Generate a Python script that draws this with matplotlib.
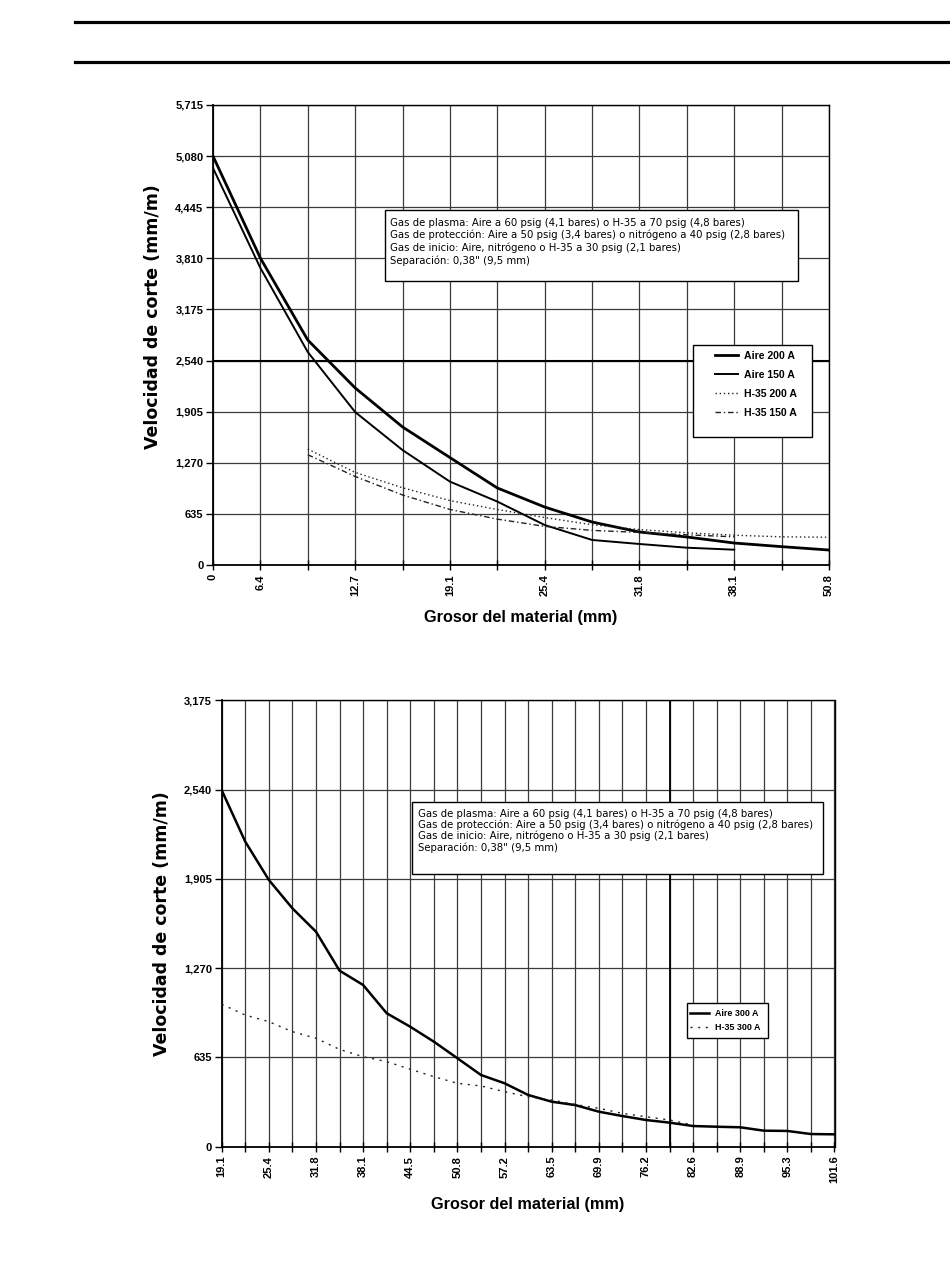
import numpy as np
import matplotlib
matplotlib.use('Agg')
import matplotlib.pyplot as plt
from matplotlib.lines import Line2D
from matplotlib.patches import Rectangle

plt.rcParams['font.family'] = ['Liberation Sans', 'DejaVu Sans']

# --- top chart data (category axis, thickness in mm) ---
thk_top = [0, 6.4, 9.5, 12.7, 15.9, 19.1, 22.2, 25.4, 28.6, 31.8, 34.9, 38.1, 44.5, 50.8]
top_labels = ['0', '6.4', '12.7', '19.1', '25.4', '31.8', '38.1', '50.8']
top_label_idx = [0, 1, 3, 5, 7, 9, 11, 13]
aire_200 = [5080, 3813, 2795, 2200, 1715, 1335, 957, 720, 534, 410, 348, 273, 228, 186]
aire_150 = [4932, 3690, 2646, 1900, 1428, 1036, 788, 497, 311, 261, 215, 190]
h35_200 = [1440, 1150, 960, 800, 690, 590, 500, 440, 400, 370, 350, 345]
h35_150 = [1370, 1100, 870, 690, 570, 480, 430, 405, 375, 350]
top_yticks = [0, 635, 1270, 1905, 2540, 3175, 3810, 4445, 5080, 5715]

# --- bottom chart data (thickness in mm, every 1/8") ---
thk_bot = [19.05 + 3.175 * k for k in range(27)]
bot_labels = ['19.1', '25.4', '31.8', '38.1', '44.5', '50.8', '57.2', '63.5', '69.9',
              '76.2', '82.6', '88.9', '95.3', '101.6']
aire_300 = [2535, 2169, 1897, 1695, 1529, 1252, 1150, 949, 853, 747, 629, 510, 451, 368,
            320, 296, 249, 218, 190, 171, 147, 142, 138, 114, 112, 90, 88]
h35_300 = [1013, 936, 889, 818, 771, 692, 640, 605, 551, 498, 451, 432, 391, 355,
           332, 300, 273, 237, 213, 190, 154]
bot_yticks = [0, 635, 1270, 1905, 2540, 3175]

note_lines = [
    'Gas de plasma: Aire a 60 psig (4,1 bares) o H-35 a 70 psig (4,8 bares)',
    'Gas de protección: Aire a 50 psig (3,4 bares) o nitrógeno a 40 psig (2,8 bares)',
    'Gas de inicio: Aire, nitrógeno o H-35 a 30 psig (2,1 bares)',
    'Separación: 0,38" (9,5 mm)',
]

fig = plt.figure(figsize=(9.5, 12.76), dpi=100)

# page rules
for yy in (1 - 22 / 1276, 1 - 62 / 1276):
    fig.add_artist(Line2D([75 / 950, 1.0], [yy, yy], transform=fig.transFigure,
                          color='black', lw=2.3))


def style_axes(ax, yticks):
    ax.set_yticks(yticks)
    ax.set_yticklabels(['{:,}'.format(v) for v in yticks])
    ax.grid(True, color='#3a3a3a', lw=0.9)
    ax.set_axisbelow(True)
    for s in ax.spines.values():
        s.set_color('black')
        s.set_linewidth(1.0)
    ax.spines['left'].set_linewidth(1.3)
    ax.spines['bottom'].set_linewidth(1.3)
    ax.tick_params(axis='y', direction='out', length=5, width=1, labelsize=8, pad=2)
    ax.tick_params(axis='x', direction='inout', length=7, width=1, labelsize=8, pad=3,
                   labelrotation=90)
    for lab in ax.get_yticklabels() + ax.get_xticklabels():
        lab.set_fontweight('bold')


def note_box(ax, x0, y0, x1, y1, tx, ty, spacing):
    ax.add_patch(Rectangle((x0, y0), x1 - x0, y1 - y0, transform=ax.transAxes,
                           facecolor='white', edgecolor='black', lw=1.0, zorder=5))
    ax.text(tx, ty, '\n'.join(note_lines), transform=ax.transAxes, fontsize=7.3,
            family='DejaVu Sans', va='top', ha='left', linespacing=spacing, zorder=6)


def legend_box(ax, x0, y0, x1, y1, anchor, fs, hl, hp, ls):
    ax.add_patch(Rectangle((x0, y0), x1 - x0, y1 - y0, transform=ax.transAxes,
                           facecolor='white', edgecolor='black', lw=1.0, zorder=5))
    leg = ax.legend(loc='upper left', bbox_to_anchor=anchor, fontsize=fs,
                    frameon=False, labelspacing=ls, handlelength=hl,
                    handletextpad=hp, borderpad=0, borderaxespad=0)
    leg.set_zorder(7)
    for t in leg.get_texts():
        t.set_fontweight('bold')


def axis_labels(ax, ylab_y):
    ax.set_xlabel('Grosor del material (mm)', fontsize=11.7, fontweight='bold', labelpad=10)
    ax.set_ylabel('Velocidad de corte (mm/m)', fontsize=12.5, fontweight='bold',
                  family='DejaVu Sans')
    ax.yaxis.set_label_coords(-0.083, ylab_y)


# ---------------- top chart ----------------
ax1 = fig.add_axes([213 / 950, 1 - 565 / 1276, 616 / 950, 460 / 1276])
idx = np.arange(len(thk_top))
ax1.plot(idx[:len(aire_200)], aire_200, color='black', lw=2.0, label='Aire 200 A', zorder=3)
ax1.plot(idx[:len(aire_150)], aire_150, color='black', lw=1.4, label='Aire 150 A', zorder=3)
ax1.plot(idx[2:2 + len(h35_200)], h35_200, color='#222222', lw=1.0, ls=(0, (1, 2)),
         label='H-35 200 A', zorder=3)
ax1.plot(idx[2:2 + len(h35_150)], h35_150, color='#222222', lw=1.0, ls=(0, (4, 2, 1, 2)),
         label='H-35 150 A', zorder=3)
ax1.set_xlim(0, len(thk_top) - 1)
ax1.set_ylim(0, 5715)
ax1.set_xticks(idx)
ax1.set_xticklabels([top_labels[top_label_idx.index(i)] if i in top_label_idx else ''
                     for i in idx])
style_axes(ax1, top_yticks)
ax1.axhline(2540, color='black', lw=1.5, zorder=1)
axis_labels(ax1, 0.541)
note_box(ax1, 0.279, 0.617, 0.950, 0.772, 0.287, 0.755, 1.25)
legend_box(ax1, 0.779, 0.278, 0.972, 0.478, (0.815, 0.465), 7.6, 2.2, 0.55, 0.85)

# ---------------- bottom chart ----------------
ax2 = fig.add_axes([221.7 / 950, 1 - 1146.7 / 1276, 612.8 / 950, 446.5 / 1276])
ax2.plot(thk_bot[:len(aire_300)], aire_300, color='black', lw=1.8, label='Aire 300 A', zorder=3)
ax2.plot(thk_bot[:len(h35_300)], h35_300, color='#222222', lw=1.0, ls=(0, (1.5, 4)),
         label='H-35 300 A', zorder=3)
ax2.set_xlim(thk_bot[0], thk_bot[-1])
ax2.set_ylim(0, 3175)
ax2.set_xticks(thk_bot)
ax2.set_xticklabels([bot_labels[k // 2] if k % 2 == 0 else '' for k in range(len(thk_bot))])
style_axes(ax2, bot_yticks)
ax2.axvline(thk_bot[19], color='black', lw=1.3, zorder=1)
axis_labels(ax2, 0.5)
note_box(ax2, 0.310, 0.611, 0.981, 0.773, 0.320, 0.757, 1.1)
legend_box(ax2, 0.759, 0.243, 0.892, 0.321, (0.764, 0.308), 6.4, 2.15, 0.67, 0.52)

fig.savefig('out.png', dpi=100, facecolor='white')
